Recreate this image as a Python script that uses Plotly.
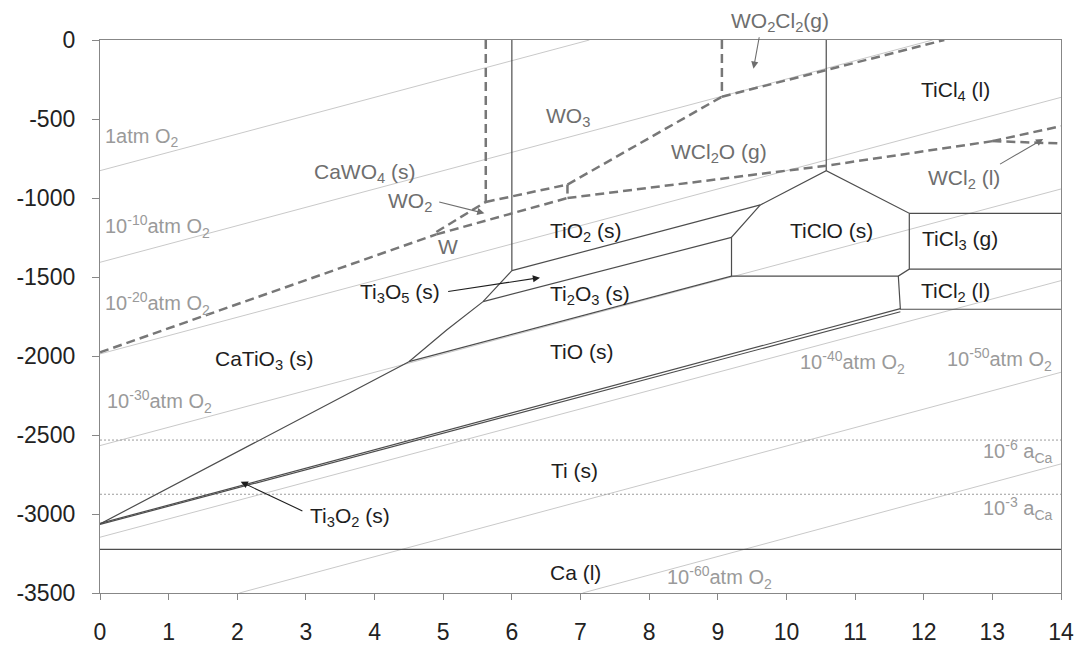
import plotly.graph_objects as go

# ---------------- data ----------------
# Oxygen isobars (log pO2 in atm), straight lines given by two end points
isobar_names = ["1 atm", "1e-10", "1e-20", "1e-30", "1e-40", "1e-50", "1e-60"]
isobar_x0 = [0, 0, 0, 0, 0, 2.03, 7.03]
isobar_y0 = [-827, -1407, -1987, -2567, -3147, -3500, -3500]
isobar_x1 = [7.13, 12.13, 14, 14, 14, 14, 14]
isobar_y1 = [0, 0, -363, -943, -1523, -2103, -2683]

# Calcium activity levels (horizontal dotted lines)
aca_levels = [-2532, -2875]

# Ti-Ca-O-Cl phase boundaries (solid lines)
ti_boundaries = {
    "x6": ([6.0, 6.0], [0, -1460]),
    "x10.6": ([10.58, 10.58], [0, -827]),
    "CaTiO3": ([0, 2.45, 4.5, 5.05, 5.58, 6.0], [-3063, -2504, -2036, -1835, -1656, -1460]),
    "TiO/Ti2O3": ([4.5, 9.2], [-2036, -1494]),
    "Ti2O3/Ti3O5": ([5.58, 9.2], [-1656, -1249]),
    "Ti3O5/TiO2": ([6.0, 9.62], [-1460, -1044]),
    "TiClO": ([9.62, 10.58, 11.79, 11.79, 11.63, 9.2, 9.2, 9.62],
              [-1044, -827, -1097, -1450, -1494, -1494, -1249, -1044]),
    "TiCl3 top": ([11.79, 14], [-1097, -1097]),
    "TiCl3/TiCl2": ([11.79, 14], [-1450, -1450]),
    "TiCl2": ([11.63, 11.66, 14], [-1494, -1704, -1704]),
    "Ti3O2 upper": ([0, 11.66], [-3060, -1700]),
    "Ti3O2 lower": ([0, 11.66], [-3066, -1720]),
    "Ca(l)": ([0, 14], [-3224, -3224]),
}

# W-Ca-O-Cl phase boundaries (dashed lines)
w_boundaries = {
    "CaWO4/W": ([0, 4.9], [-1977, -1230]),
    "CaWO4/WO2": ([4.9, 5.62], [-1215, -1025]),
    "CaWO4/WO3": ([5.62, 5.62], [0, -1025]),
    "WO3/WO2": ([5.62, 6.81], [-1025, -915]),
    "WO2/WCl2O": ([6.81, 6.81], [-915, -1000]),
    "WO3/WCl2O": ([6.81, 9.06], [-915, -359]),
    "WO2/W": ([4.9, 6.81], [-1230, -1000]),
    "W/WCl2O": ([6.81, 10.59, 13.0], [-1000, -795, -640]),
    "WCl2O/WCl2": ([13.0, 14], [-640, -545]),
    "WCl2/W": ([13.0, 14], [-640, -655]),
    "WO3/WO2Cl2": ([9.06, 9.06], [0, -359]),
    "WO2Cl2/WCl2O": ([9.06, 12.3], [-359, 0]),
}

# Phase-field labels: (text, x, y, colour group)
phase_labels = [
    ("CaWO<sub>4</sub> (s)", 3.86, -842, "w"),
    ("WO<sub>3</sub>", 6.82, -487, "w"),
    ("WCl<sub>2</sub>O (g)", 9.02, -715, "w"),
    ("W", 5.07, -1308, "w"),
    ("TiCl<sub>4</sub> (l)", 12.46, -323, "ti"),
    ("TiO<sub>2</sub> (s)", 7.08, -1215, "ti"),
    ("TiClO (s)", 10.66, -1203, "ti"),
    ("TiCl<sub>3</sub> (g)", 12.53, -1266, "ti"),
    ("Ti<sub>2</sub>O<sub>3</sub> (s)", 7.14, -1614, "ti"),
    ("TiCl<sub>2</sub> (l)", 12.46, -1595, "ti"),
    ("CaTiO<sub>3</sub> (s)", 2.39, -2025, "ti"),
    ("TiO (s)", 7.02, -1973, "ti"),
    ("Ti (s)", 6.91, -2722, "ti"),
    ("Ca (l)", 6.92, -3373, "ti"),
]

# Isobar / activity labels: (text, x, y, xanchor)
line_labels = [
    ("1atm O<sub>2</sub>", 0.05, -620, "left"),
    ("10<sup>-10</sup>atm O<sub>2</sub>", 0.05, -1183, "left"),
    ("10<sup>-20</sup>atm O<sub>2</sub>", 0.05, -1665, "left"),
    ("10<sup>-30</sup>atm O<sub>2</sub>", 0.07, -2289, "left"),
    ("10<sup>-40</sup>atm O<sub>2</sub>", 10.96, -2044, "center"),
    ("10<sup>-50</sup>atm O<sub>2</sub>", 13.11, -2025, "center"),
    ("10<sup>-60</sup>atm O<sub>2</sub>", 9.03, -3405, "center"),
    ("10<sup>-6</sup> a<sub>Ca</sub>", 13.91, -2606, "right"),
    ("10<sup>-3</sup> a<sub>Ca</sub>", 13.91, -2962, "right"),
]

# Arrowed labels: (text, text x, text y, tail x, tail y, head x, head y, colour group)
arrow_labels = [
    ("Ti<sub>3</sub>O<sub>5</sub> (s)", 4.37, -1601, 5.05, -1593, 6.41, -1504, "ti"),
    ("Ti<sub>3</sub>O<sub>2</sub> (s)", 3.64, -3017, 2.97, -2985, 2.05, -2796, "ti"),
    ("WO<sub>2</sub>", 4.52, -1023, 4.92, -1023, 5.6, -1097, "w"),
    ("WCl<sub>2</sub> (l)", 12.59, -880, 13.09, -791, 13.74, -627, "w"),
]

# Gas label above the plot frame, with its arrow pointing into the WO2Cl2 field
wo2cl2_text_x = 9.91
wo2cl2_head = (9.52, -182)

x_ticks = list(range(0, 15))
y_ticks = [0, -500, -1000, -1500, -2000, -2500, -3000, -3500]

# ---------------- styling ----------------
FONT = "Liberation Sans, Arial, sans-serif"
TI_COLOR = "#1e1e1e"
W_COLOR = "#6e6e6e"
ISO_LABEL_COLOR = "#9a9a9a"
AXIS_COLOR = "#878787"
LABEL_SIZE = 21

fig = go.Figure()

for i, name in enumerate(isobar_names):
    fig.add_trace(go.Scatter(
        x=[isobar_x0[i], isobar_x1[i]], y=[isobar_y0[i], isobar_y1[i]],
        mode="lines", line=dict(color="#c9c9c9", width=1), hoverinfo="skip",
        showlegend=False, name=name))

for lvl in aca_levels:
    fig.add_trace(go.Scatter(
        x=[0, 14], y=[lvl, lvl], mode="lines",
        line=dict(color="#9c9c9c", width=1, dash="2px,2px"),
        hoverinfo="skip", showlegend=False))

for name, (xs, ys) in ti_boundaries.items():
    fig.add_trace(go.Scatter(
        x=xs, y=ys, mode="lines", name=name,
        line=dict(color="#4d4d4d", width=1.2),
        hoverinfo="skip", showlegend=False))

for name, (xs, ys) in w_boundaries.items():
    fig.add_trace(go.Scatter(
        x=xs, y=ys, mode="lines", name=name,
        line=dict(color="#777777", width=2.5, dash="9px,5px"),
        hoverinfo="skip", showlegend=False))

annotations = []
for text, x, y, grp in phase_labels:
    annotations.append(dict(
        x=x, y=y, xref="x", yref="y", text=text, showarrow=False,
        font=dict(family=FONT, size=LABEL_SIZE, color=TI_COLOR if grp == "ti" else W_COLOR)))

for text, x, y, anchor in line_labels:
    annotations.append(dict(
        x=x, y=y, xref="x", yref="y", text=text, showarrow=False, xanchor=anchor,
        font=dict(family=FONT, size=20, color=ISO_LABEL_COLOR)))

for text, tx, ty, ax0, ay0, hx, hy, grp in arrow_labels:
    col = TI_COLOR if grp == "ti" else W_COLOR
    annotations.append(dict(
        x=tx, y=ty, xref="x", yref="y", text=text, showarrow=False,
        font=dict(family=FONT, size=LABEL_SIZE, color=col)))
    annotations.append(dict(
        x=hx, y=hy, ax=ax0, ay=ay0, xref="x", yref="y", axref="x", ayref="y",
        text="", showarrow=True, arrowhead=2, arrowsize=1.3, arrowwidth=1.1,
        arrowcolor=col, standoff=0, startstandoff=0))

annotations.append(dict(
    x=wo2cl2_text_x, y=1.033, xref="x", yref="paper", yanchor="middle",
    text="WO<sub>2</sub>Cl<sub>2</sub>(g)",
    showarrow=False, font=dict(family=FONT, size=LABEL_SIZE, color=W_COLOR)))
annotations.append(dict(
    x=wo2cl2_head[0], y=wo2cl2_head[1], xref="x", yref="y", ax=6, ay=-33,
    text="", showarrow=True, arrowhead=2, arrowsize=1.3, arrowwidth=1.1,
    arrowcolor=W_COLOR, standoff=0, startstandoff=0))

fig.update_layout(
    width=1078, height=645,
    margin=dict(l=100, r=17, t=40, b=52),
    paper_bgcolor="white", plot_bgcolor="white",
    annotations=annotations,
    showlegend=False,
)

fig.update_xaxes(
    range=[0, 14], tickvals=x_ticks, ticktext=[str(v) for v in x_ticks],
    showgrid=False, zeroline=False, showline=True, linecolor=AXIS_COLOR, linewidth=1.3,
    mirror=True, ticks="outside", ticklen=6, tickcolor=AXIS_COLOR, tickwidth=1.3,
    tickfont=dict(family=FONT, size=23, color="#222222"), ticklabelstandoff=12,
    automargin=False)

fig.update_yaxes(
    range=[-3500, 0], tickvals=y_ticks, ticktext=[str(v) for v in y_ticks],
    showgrid=False, zeroline=False, showline=True, linecolor=AXIS_COLOR, linewidth=1.3,
    mirror=True, ticks="outside", ticklen=7, tickcolor=AXIS_COLOR, tickwidth=1.3,
    tickfont=dict(family=FONT, size=23, color="#222222"), ticklabelstandoff=12,
    automargin=False)

fig.write_html("out.html")
